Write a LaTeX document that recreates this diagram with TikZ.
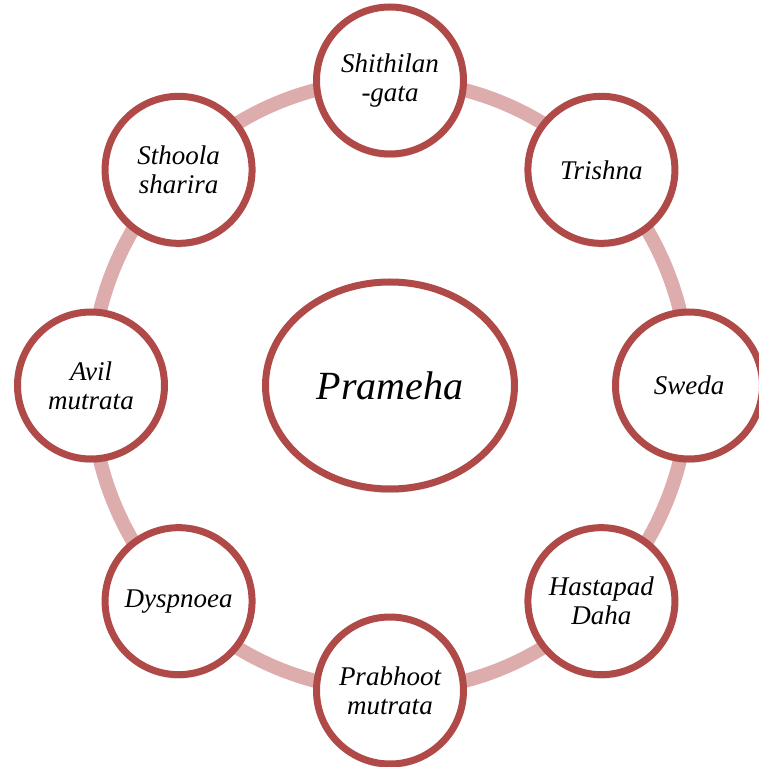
\documentclass[tikz,border=0pt]{standalone}
\usepackage{fontspec}
\setmainfont{Liberation Serif}
\usepackage{tikz}
\usetikzlibrary{shapes.geometric,shadows}
\definecolor{ringred}{RGB}{176,74,72}
\definecolor{ringpink}{RGB}{221,172,172}
\tikzset{
  sat/.style={circle, draw=ringred, line width=7pt, fill=white, minimum size=147pt, inner sep=0pt, align=center,
    font=\itshape\fontsize{27}{29}\selectfont,
    drop shadow={opacity=0.25, shadow xshift=0pt, shadow yshift=-4pt}},
  core/.style={ellipse, draw=ringred, line width=7pt, fill=white, minimum width=249pt, minimum height=207pt,
    font=\itshape\fontsize{40}{44}\selectfont,
    drop shadow={opacity=0.25, shadow xshift=0pt, shadow yshift=-4pt}}
}

\begin{document}
\begin{tikzpicture}[x=1pt,y=1pt]
  \useasboundingbox (-390,-381.5) rectangle (368,385.5);
  \coordinate (c) at (0,0);
  \draw[color=ringpink, line width=14pt] (c) ellipse [x radius=299pt, y radius=305pt];
  \foreach \a/\n/\t in {90/shith/{Shithilan\\-gata}, 45/trish/{Trishna}, 0/sweda/{Sweda},
    -45/hasta/{Hastapad\\Daha}, -90/prab/{Prabhoot\\mutrata}, -135/dysp/{Dyspnoea},
    180/avil/{Avil\\mutrata}, 135/sthoo/{Sthoola\\sharira}}
  {
  \node[sat] (\n) at ({299*cos(\a)},{305*sin(\a)}) {\t};
  }
  \node[core] (prameha) at (c) {Prameha};
\end{tikzpicture}
\end{document}
